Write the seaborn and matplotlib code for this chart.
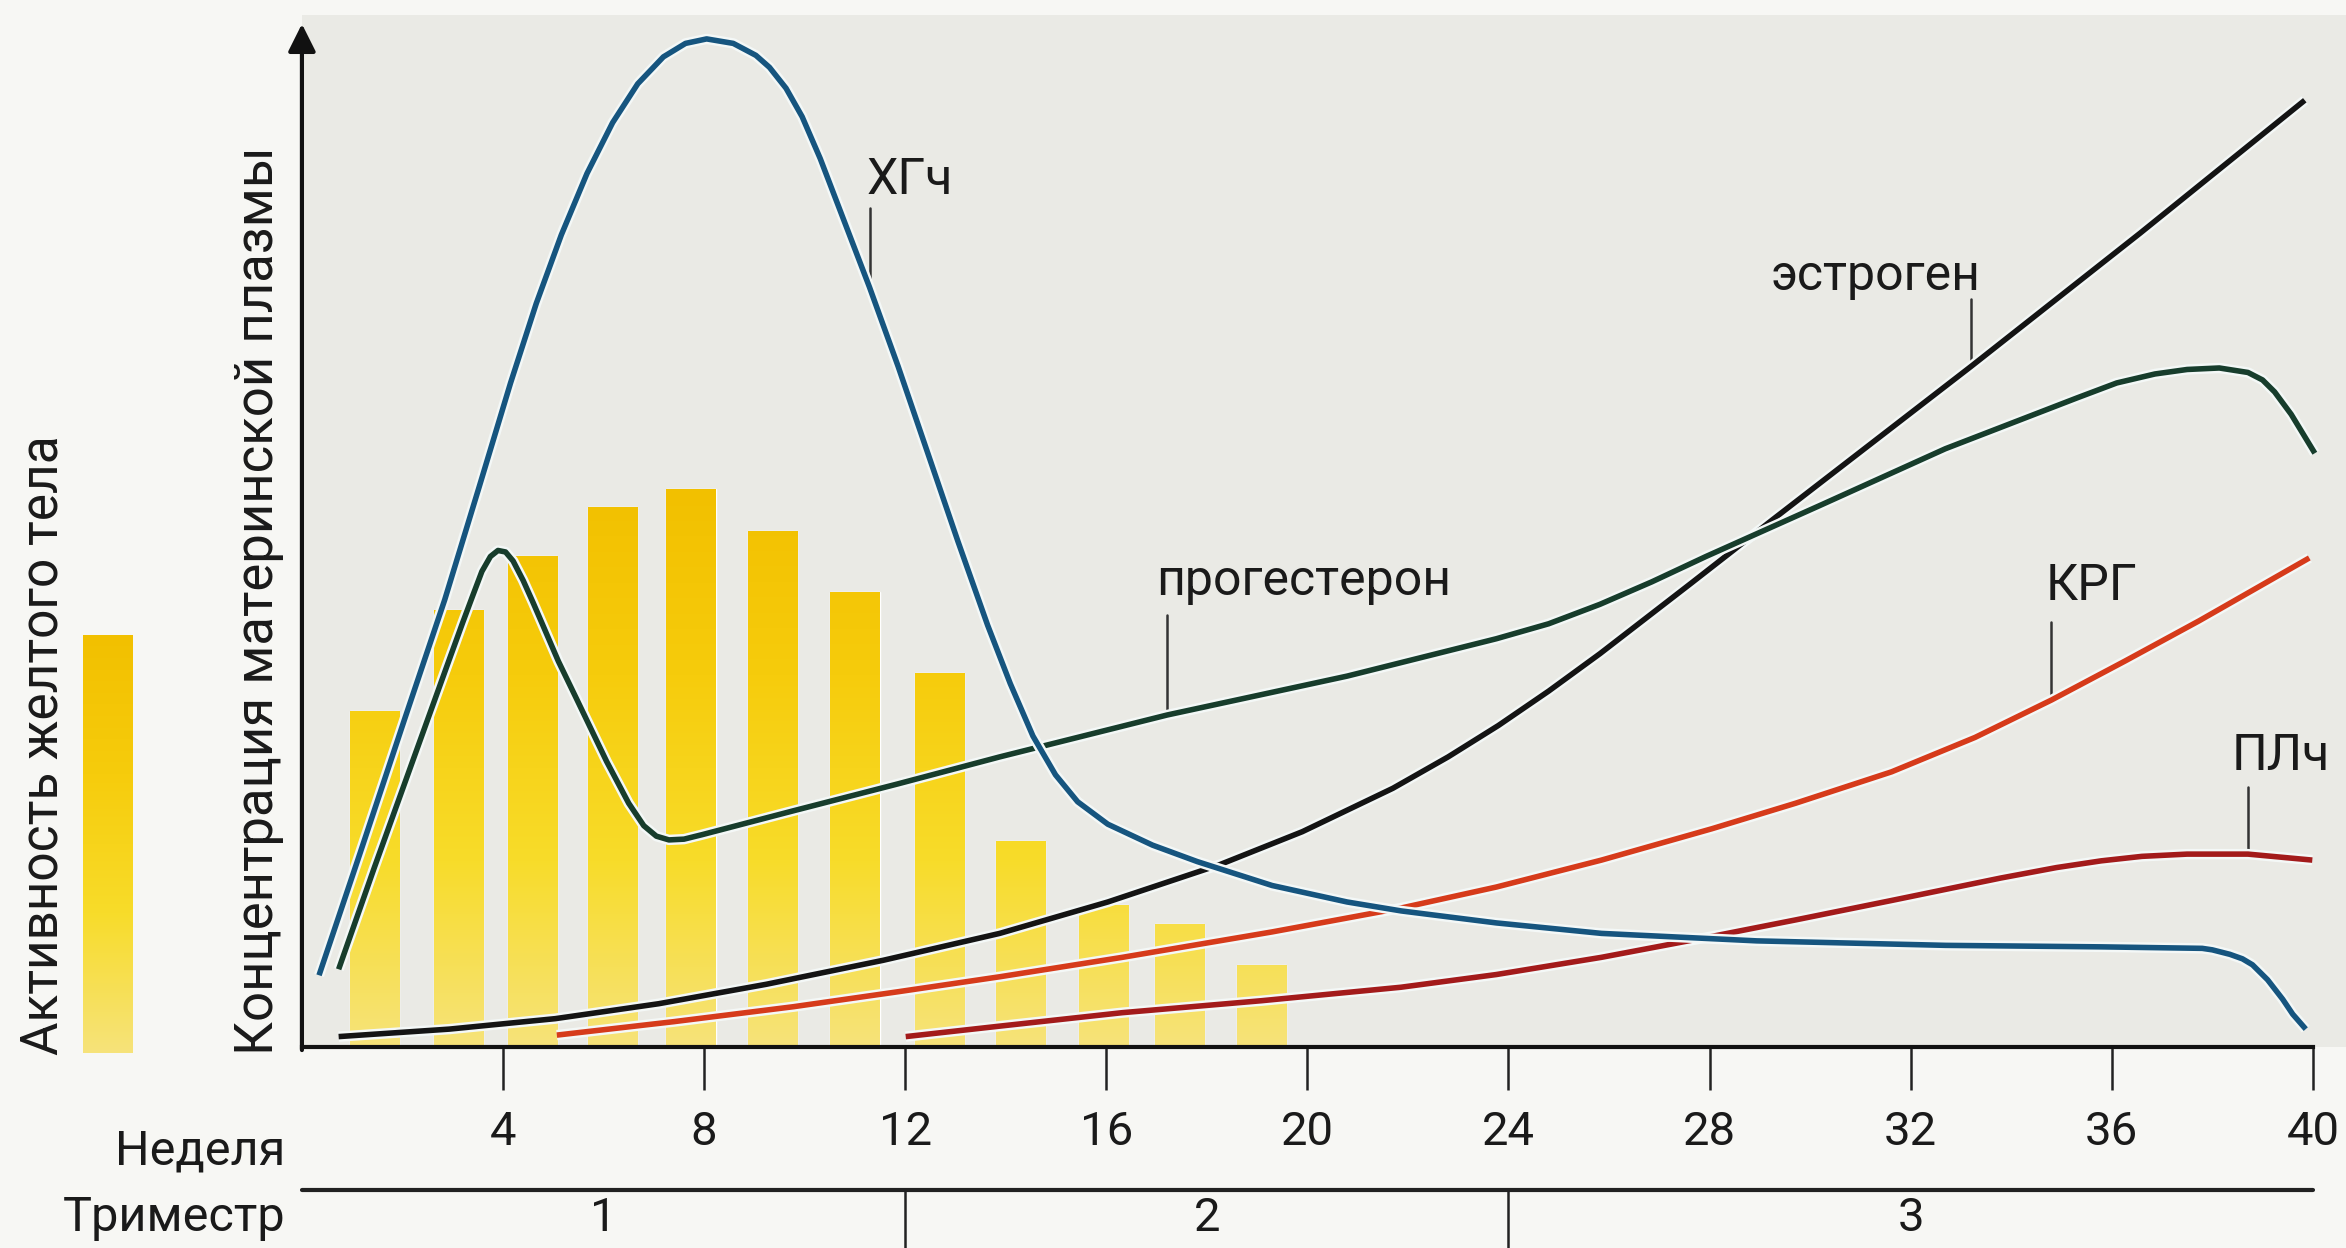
import numpy as np
import matplotlib
matplotlib.use("Agg")
import matplotlib.pyplot as plt
import matplotlib.transforms as mtransforms
import matplotlib.patheffects as pe
from matplotlib.colors import LinearSegmentedColormap
import seaborn as sns

# ── Data (x = week of pregnancy, y = relative units) ──────────────────────────
HCG_WEEKS = [0.34, 1.15, 2.04, 2.84, 3.53, 4.15, 4.66, 5.16, 5.67, 6.18, 6.68, 7.19, 7.63,
             8.05, 8.58, 9.03, 9.3, 9.63, 9.95, 10.31, 10.8, 11.29, 11.86, 12.45, 13.05,
             13.64, 14.09, 14.54, 14.99, 15.43, 16.03, 16.92, 17.81, 19.3, 20.79, 21.87,
             23.76, 25.85, 28.94, 32.7, 35.79, 37.8, 38.0, 38.35, 38.6, 38.8, 39.1, 39.4,
             39.6, 39.86]
HCG_VALUES = [48, 129, 219, 299, 375, 444, 497, 543, 584, 618, 644, 662, 671,
              674, 671, 663, 655, 641, 622, 594, 551, 508, 455, 397, 338,
              282, 243, 208, 182, 164, 149, 135, 124, 108, 97, 91,
              83, 76, 71, 68, 67, 66, 65, 62, 59, 55, 45, 32,
              22, 12]

PROG_WEEKS = [0.73, 1.44, 2.19, 2.93, 3.2, 3.4, 3.58, 3.75, 3.9, 4.05, 4.2, 4.4, 4.6, 4.78,
              5.1, 5.46, 6.06, 6.5, 6.8, 7.05, 7.3, 7.6, 7.96, 9.78, 11.86, 13.88, 17.21,
              20.79, 23.76, 24.8, 25.82, 26.85, 27.93, 30.19, 32.69, 35.31, 36.1, 36.86,
              37.5, 38.14, 38.71, 39.0, 39.24, 39.57, 40.04]
PROG_VALUES = [52, 120, 190, 259, 284, 302, 318, 328, 332, 331, 325, 312, 297, 283,
               258, 233, 191, 163, 148, 141, 138.5, 139, 142, 158, 176, 194, 222,
               248, 273, 283, 296, 311, 328, 362, 400, 434, 444, 450,
               453, 454, 451, 446, 438, 423, 397]

EST_WEEKS = [0.73, 2.93, 5.04, 7.1, 9.24, 11.56, 13.88, 16.03, 18.26, 19.9, 21.7, 22.8,
             23.8, 24.8, 25.82, 27.63, 29.27, 33.2, 36.56, 39.84]
EST_VALUES = [7, 12, 19, 29, 42, 58, 76, 97, 122, 144, 173, 194,
              215, 238, 263, 310, 353, 455, 544, 633]

KRG_WEEKS = [5.07, 7.4, 9.78, 11.86, 13.88, 16.32, 19.3, 21.87, 23.76, 25.85, 28.05, 29.71,
             31.62, 33.28, 34.8, 36.26, 37.74, 39.93]
KRG_VALUES = [8, 17, 27, 37, 47, 60, 77, 93, 107, 125, 146, 163,
              184, 207, 232, 258, 285, 327]

PL_WEEKS = [12.01, 13.88, 16.32, 19.09, 21.86, 23.76, 25.85, 28.05, 29.71, 31.62, 33.79,
            34.9, 35.79, 36.6, 37.5, 38.71, 39.99]
PL_VALUES = [7, 14, 23, 31, 40, 48.5, 60, 74, 85, 98, 113,
             120, 124.5, 127.5, 129, 129, 125]

# corpus luteum activity bars
BAR_WEEKS = [1.44, 3.12, 4.58, 6.18, 7.74, 9.36, 11.0, 12.69, 14.3, 15.94, 17.46, 19.09]
BAR_VALUES = [225, 292, 328, 361, 373, 345, 304, 250, 138, 95, 82, 55]

WEEK_TICKS = [4, 8, 12, 16, 20, 24, 28, 32, 36, 40]
TRIMESTER_BOUNDS = [0, 12, 24, 40]
TRIMESTER_LABELS = ["1", "2", "3"]

# ── Style ─────────────────────────────────────────────────────────────────────
sns.set_theme(style="white")
plt.rcParams["font.family"] = ["Roboto", "DejaVu Sans"]

BG_PLOT = "#eaeae5"
BG_FIG = "#f7f7f4"
C_HCG = "#16557f"
C_PROG = "#173d2c"
C_EST = "#141414"
C_KRG = "#d63b1b"
C_PL = "#a31b1b"
GOLD = LinearSegmentedColormap.from_list(
    "gold", ["#f6e37a", "#f8dc2a", "#f6cc0c", "#f2c000"])

fig = plt.figure(figsize=(23.46, 12.48), dpi=100, facecolor=BG_FIG)
ax = fig.add_axes([0.1287, 0.161, 0.8713, 0.827])
ax.set_facecolor(BG_PLOT)

# ── Bars with vertical gradient ───────────────────────────────────────────────
sns.barplot(x=BAR_WEEKS, y=BAR_VALUES, native_scale=True, orient="x",
            width=0.67, color="#f7d82a", errorbar=None, ax=ax, zorder=1)
grad = np.linspace(0, 1, 256).reshape(-1, 1)
grad_top = max(BAR_VALUES)
for patch in list(ax.patches):
    x0, w = patch.get_x(), patch.get_width()
    img = ax.imshow(grad, extent=[x0, x0 + w, 0, grad_top], origin="lower",
                    cmap=GOLD, aspect="auto", zorder=1.5, interpolation="bilinear")
    img.set_clip_path(patch)

# ── Hormone curves ────────────────────────────────────────────────────────────
halo = [pe.Stroke(linewidth=7.5, foreground="#f4f8f7"), pe.Normal()]
series = [
    (PL_WEEKS, PL_VALUES, C_PL),
    (KRG_WEEKS, KRG_VALUES, C_KRG),
    (EST_WEEKS, EST_VALUES, C_EST),
    (PROG_WEEKS, PROG_VALUES, C_PROG),
    (HCG_WEEKS, HCG_VALUES, C_HCG),
]
for wk, vals, col in series:
    sns.lineplot(x=wk, y=vals, color=col, lw=4.0, estimator=None, sort=False,
                 ax=ax, zorder=3, path_effects=halo,
                 solid_joinstyle="round", solid_capstyle="butt")

# ── Curve labels with leader lines ────────────────────────────────────────────
labels = [
    # text, weeks, values, leader week, leader top, text x, text y, ha
    ("ХГч", HCG_WEEKS, HCG_VALUES, 11.29, 561, 11.24, 570, "left"),
    ("эстроген", EST_WEEKS, EST_VALUES, 33.2, 500, 33.38, 506, "right"),
    ("прогестерон", PROG_WEEKS, PROG_VALUES, 17.21, 289, 17.0, 302, "left"),
    ("КРГ", KRG_WEEKS, KRG_VALUES, 34.8, 284, 34.69, 299, "left"),
    ("ПЛч", PL_WEEKS, PL_VALUES, 38.71, 174, 38.38, 185, "left"),
]
for txt, wk, vals, lw_x, top, tx, ty, ha in labels:
    v = vals[wk.index(lw_x)]
    ax.plot([lw_x, lw_x], [v, top], color="#333333", lw=1.8, zorder=2.5)
    ax.text(tx, ty, txt, ha=ha, va="baseline", fontsize=36, color="#1a1a1a", zorder=4)

# ── Axes ──────────────────────────────────────────────────────────────────────
ax.set_xlim(0, 40.66)
ax.set_ylim(0, 690)
for side in ["top", "right", "left"]:
    ax.spines[side].set_visible(False)
ax.spines["bottom"].set_bounds(0, 40)
ax.spines["bottom"].set_linewidth(3)
ax.spines["bottom"].set_color("#111111")
ax.spines["bottom"].set_zorder(5)
ax.set_xticks(WEEK_TICKS)
ax.set_xticklabels([str(t) for t in WEEK_TICKS])
ax.tick_params(axis="x", direction="out", length=31, width=1.8, color="#222222",
               pad=14, labelsize=34, labelcolor="#1a1a1a", bottom=True)
ax.set_yticks([])
ax.set_xlabel("")
ax.set_ylabel("")

# vertical axis arrow
ax.annotate("", xy=(0, 684), xytext=(0, -2),
            arrowprops=dict(arrowstyle="-|>", lw=3, color="#111111", mutation_scale=42,
                            shrinkA=0, shrinkB=0),
            annotation_clip=False, zorder=6)

# trimester strip below the axis
trans = mtransforms.blended_transform_factory(ax.transData, ax.transAxes)
y_tri = -0.138
ax.plot([TRIMESTER_BOUNDS[0], TRIMESTER_BOUNDS[-1]], [y_tri, y_tri], transform=trans,
        color="#222222", lw=3, clip_on=False)
for b in TRIMESTER_BOUNDS[1:-1]:
    ax.plot([b, b], [y_tri, -0.2], transform=trans, color="#222222", lw=1.8, clip_on=False)
for lo, hi, lab in zip(TRIMESTER_BOUNDS[:-1], TRIMESTER_BOUNDS[1:], TRIMESTER_LABELS):
    ax.text((lo + hi) / 2, -0.166, lab, transform=trans, ha="center", va="center",
            fontsize=34, color="#1a1a1a")

fig.text(0.1215, 0.077, "Неделя", ha="right", va="center", fontsize=35, color="#1a1a1a")
fig.text(0.1215, 0.024, "Триместр", ha="right", va="center", fontsize=35, color="#1a1a1a")

fig.text(0.110, 0.1546, "Концентрация материнской плазмы", rotation=90,
         ha="center", va="bottom", fontsize=38, color="#1a1a1a")
fig.text(0.0185, 0.1546, "Активность желтого тела", rotation=90,
         ha="center", va="bottom", fontsize=37, color="#1a1a1a")

# legend swatch for corpus luteum activity
lax = fig.add_axes([0.0354, 0.156, 0.0213, 0.335])
lax.imshow(grad, origin="lower", cmap=GOLD, aspect="auto", interpolation="bilinear")
lax.set_axis_off()

plt.savefig("out.png", dpi=100, facecolor=BG_FIG)
